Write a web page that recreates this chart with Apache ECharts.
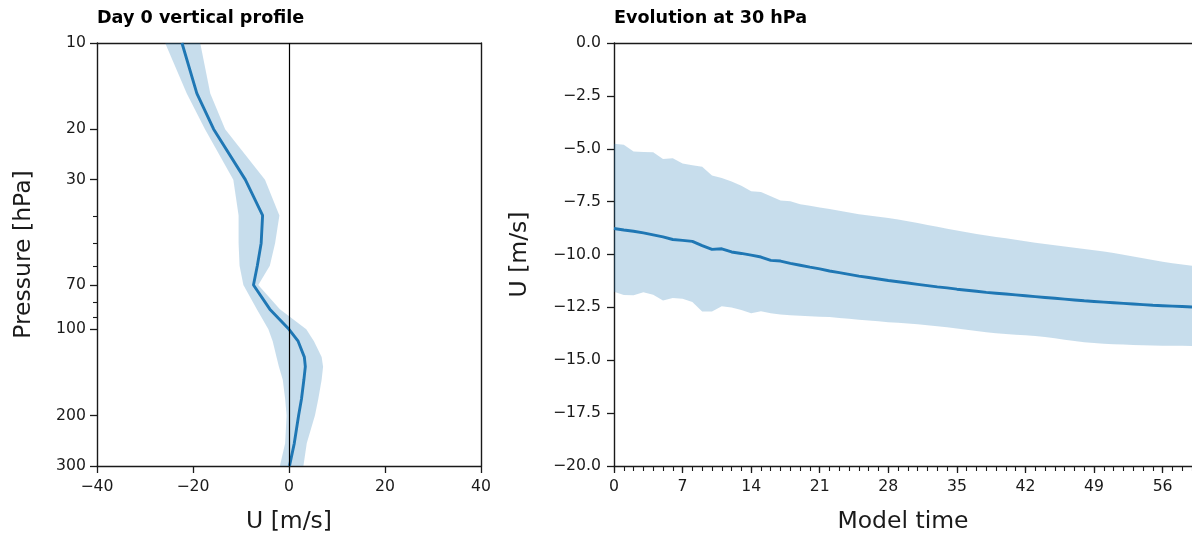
<!DOCTYPE html>
<html><head><meta charset="utf-8">
<script src="https://cdn.jsdelivr.net/npm/echarts@6/dist/echarts.min.js"></script>
<style>html,body{margin:0;padding:0;background:#fff}#c{width:1192px;height:539px}</style>
</head><body><div id="c"></div>
<script>
// ---- Left panel: Day 0 vertical profile ----
const pressureLevels = [10, 15, 20, 30, 40, 50, 60, 70, 85, 100, 110, 125, 135, 150, 175, 200, 250, 300];
const profileMean = [-22.3, -19.2, -15.7, -9.1, -5.5, -5.8, -6.6, -7.4, -4.0, 0.0, 1.9, 3.2, 3.4, 3.1, 2.6, 2.0, 1.1, 0.1];
const profileLow  = [-25.8, -21.3, -17.5, -11.6, -10.5, -10.5, -10.3, -9.5, -6.7, -4.3, -3.4, -2.6, -2.1, -1.3, -0.8, -0.5, -0.8, -1.9];
const profileHigh = [-18.5, -16.4, -13.3, -5.0, -2.0, -2.9, -4.0, -6.4, -1.9, 3.6, 5.2, 6.8, 7.1, 6.8, 6.1, 5.4, 3.7, 3.0];
const pressureTickLabels = [10, 20, 30, 70, 100, 200, 300];
const pressureMinorTicks = [40, 50, 60, 80, 90];
const uTickLabels = [-40, -20, 0, 20, 40];

// ---- Right panel: Evolution at 30 hPa ----
const days = [0,1,2,3,4,5,6,7,8,9,10,11,12,13,14,15,16,17,18,19,20,21,22,23,24,25,26,27,28,29,30,31,32,33,34,35,36,37,38,39,40,41,42,43,44,45,46,47,48,49,50,51,52,53,54,55,56,57,58,59];
const evoMean = [-8.77,-8.84,-8.90,-8.98,-9.07,-9.17,-9.29,-9.33,-9.38,-9.58,-9.76,-9.73,-9.88,-9.95,-10.03,-10.12,-10.28,-10.31,-10.42,-10.51,-10.60,-10.68,-10.78,-10.86,-10.94,-11.02,-11.09,-11.16,-11.23,-11.29,-11.35,-11.41,-11.47,-11.53,-11.58,-11.64,-11.69,-11.74,-11.79,-11.83,-11.87,-11.91,-11.95,-11.99,-12.03,-12.07,-12.11,-12.15,-12.19,-12.22,-12.25,-12.28,-12.31,-12.34,-12.37,-12.40,-12.42,-12.44,-12.46,-12.48];
const evoHigh = [-4.76,-4.81,-5.13,-5.15,-5.16,-5.49,-5.45,-5.70,-5.78,-5.85,-6.27,-6.38,-6.55,-6.75,-7.01,-7.05,-7.25,-7.45,-7.48,-7.62,-7.70,-7.78,-7.85,-7.93,-8.02,-8.10,-8.16,-8.22,-8.28,-8.35,-8.43,-8.51,-8.60,-8.69,-8.78,-8.87,-8.95,-9.03,-9.10,-9.17,-9.23,-9.30,-9.37,-9.44,-9.50,-9.56,-9.62,-9.68,-9.74,-9.80,-9.86,-9.93,-10.01,-10.10,-10.18,-10.26,-10.34,-10.41,-10.47,-10.53];
const evoLow = [-11.76,-11.92,-11.93,-11.78,-11.90,-12.17,-12.06,-12.09,-12.25,-12.70,-12.70,-12.45,-12.50,-12.62,-12.78,-12.68,-12.78,-12.84,-12.87,-12.90,-12.92,-12.94,-12.96,-13.00,-13.04,-13.08,-13.12,-13.16,-13.20,-13.23,-13.26,-13.30,-13.34,-13.39,-13.44,-13.50,-13.56,-13.62,-13.68,-13.72,-13.76,-13.79,-13.82,-13.85,-13.90,-13.96,-14.03,-14.09,-14.15,-14.19,-14.22,-14.24,-14.26,-14.28,-14.29,-14.30,-14.31,-14.32,-14.32,-14.33];
const dayTickLabels = [0, 7, 14, 21, 28, 35, 42, 49, 56];

const FONT = 'DejaVu Sans';
const BLUE = '#1f77b4';
const BAND = 'rgba(31,119,180,0.25)';
const INK = '#1a1a1a';
const minus = s => String(s).replace('-', '\u2212');
const lg = Math.log10;

const chart = echarts.init(document.getElementById('c'), null, {renderer: 'canvas'});

const spineLine = {show: true, onZero: false, lineStyle: {color: INK, width: 1.4}};
const noLine = {show: false, onZero: false};
const majorTick = {show: true, length: 7, lineStyle: {color: INK, width: 1.3}};
const minorTick = {show: true, length: 4, lineStyle: {color: INK, width: 1.1}};
const lbl = {fontFamily: FONT, fontSize: 15.7, color: INK};
const nameStyle = {fontFamily: FONT, fontSize: 23.5, color: INK};
const hidden = {show: false};

const rectL = {left: 97, top: 43, width: 384, height: 424};
const rectR = {left: 614, top: 43, width: 579, height: 424};

const option = {
  animation: false,
  backgroundColor: '#fff',
  title: [
    {text: 'Day 0 vertical profile', left: 97, top: 9, padding: 0,
     textStyle: {fontFamily: FONT, fontSize: 17.6, fontWeight: 'bold', color: '#000'}},
    {text: 'Evolution at 30 hPa', left: 614, top: 9, padding: 0,
     textStyle: {fontFamily: FONT, fontSize: 17.6, fontWeight: 'bold', color: '#000'}}
  ],
  grid: [
    Object.assign({}, rectL),
    Object.assign({}, rectL),
    Object.assign({}, rectR),
    Object.assign({}, rectR)
  ],
  xAxis: [
    { // 0: left main
      type: 'value', gridIndex: 0, min: -40, max: 40, interval: 20,
      axisLine: spineLine, axisTick: majorTick,
      axisLabel: Object.assign({margin: 13, formatter: v => minus(v)}, lbl),
      splitLine: hidden,
      name: 'U [m/s]', nameLocation: 'middle', nameGap: 44, nameTextStyle: nameStyle
    },
    { // 1: left top spine
      type: 'value', gridIndex: 0, position: 'top', min: -40, max: 40,
      axisLine: spineLine, axisTick: hidden, axisLabel: hidden, splitLine: hidden
    },
    { // 2: left minor grid x (hidden)
      type: 'value', gridIndex: 1, min: -40, max: 40, show: false, axisLine: noLine
    },
    { // 3: right main
      type: 'value', gridIndex: 2, min: 0, max: 59,
      axisLine: spineLine,
      axisTick: Object.assign({customValues: dayTickLabels}, majorTick),
      axisLabel: Object.assign({margin: 13, customValues: dayTickLabels, formatter: v => String(v)}, lbl),
      splitLine: hidden,
      name: 'Model time', nameLocation: 'middle', nameGap: 44, nameTextStyle: nameStyle
    },
    { // 4: right top spine
      type: 'value', gridIndex: 2, position: 'top', min: 0, max: 59,
      axisLine: spineLine, axisTick: hidden, axisLabel: hidden, splitLine: hidden
    },
    { // 5: right minor ticks
      type: 'value', gridIndex: 3, min: 0, max: 59,
      axisLine: noLine,
      axisTick: Object.assign({customValues: days}, minorTick),
      axisLabel: hidden, splitLine: hidden
    }
  ],
  yAxis: [
    { // 0: left main (log pressure)
      type: 'value', gridIndex: 0, inverse: true, min: lg(10), max: lg(300),
      axisLine: spineLine,
      axisTick: Object.assign({customValues: pressureTickLabels.map(lg)}, majorTick),
      axisLabel: Object.assign({margin: 11, customValues: pressureTickLabels.map(lg),
        formatter: v => String(Math.round(Math.pow(10, v)))}, lbl),
      splitLine: hidden,
      name: 'Pressure [hPa]', nameLocation: 'middle', nameGap: 61, nameTextStyle: nameStyle
    },
    { // 1: left right spine
      type: 'value', gridIndex: 0, position: 'right', inverse: true, min: lg(10), max: lg(300),
      axisLine: spineLine, axisTick: hidden, axisLabel: hidden, splitLine: hidden
    },
    { // 2: left minor ticks
      type: 'value', gridIndex: 1, inverse: true, min: lg(10), max: lg(300),
      axisLine: noLine,
      axisTick: Object.assign({customValues: pressureMinorTicks.map(lg)}, minorTick),
      axisLabel: hidden, splitLine: hidden
    },
    { // 3: right main
      type: 'value', gridIndex: 2, min: -20, max: 0, interval: 2.5,
      axisLine: spineLine, axisTick: majorTick,
      axisLabel: Object.assign({margin: 13, formatter: v => minus(v.toFixed(1))}, lbl),
      splitLine: hidden,
      name: 'U [m/s]', nameLocation: 'middle', nameGap: 82, nameTextStyle: nameStyle
    },
    { // 4: right minor grid y (hidden)
      type: 'value', gridIndex: 3, min: -20, max: 0, show: false, axisLine: noLine
    }
  ],
  series: [
    {
      type: 'custom', xAxisIndex: 0, yAxisIndex: 0, silent: true, z: 1,
      data: [0],
      renderItem: (params, api) => {
        const pts = [];
        for (let i = 0; i < pressureLevels.length; i++) pts.push(api.coord([profileLow[i], lg(pressureLevels[i])]));
        for (let i = pressureLevels.length - 1; i >= 0; i--) pts.push(api.coord([profileHigh[i], lg(pressureLevels[i])]));
        return {type: 'polygon', shape: {points: pts}, style: {fill: BAND}};
      }
    },
    {
      type: 'line', xAxisIndex: 0, yAxisIndex: 0, z: 3,
      data: pressureLevels.map((p, i) => [profileMean[i], lg(p)]),
      showSymbol: false, symbol: 'none',
      lineStyle: {color: BLUE, width: 2.9},
      markLine: {
        silent: true, symbol: ['none', 'none'], label: {show: false},
        lineStyle: {color: '#000', width: 1.2, type: 'solid'},
        data: [{xAxis: 0}]
      }
    },
    {
      type: 'custom', xAxisIndex: 3, yAxisIndex: 3, silent: true, z: 1,
      data: [0],
      renderItem: (params, api) => {
        const pts = [];
        for (let i = 0; i < days.length; i++) pts.push(api.coord([days[i], evoLow[i]]));
        for (let i = days.length - 1; i >= 0; i--) pts.push(api.coord([days[i], evoHigh[i]]));
        return {type: 'polygon', shape: {points: pts}, style: {fill: BAND}};
      }
    },
    {
      type: 'line', xAxisIndex: 3, yAxisIndex: 3, z: 3,
      data: days.map((d, i) => [d, evoMean[i]]),
      showSymbol: false, symbol: 'none',
      lineStyle: {color: BLUE, width: 2.9}
    }
  ]
};
chart.setOption(option);
</script>
</body></html>
